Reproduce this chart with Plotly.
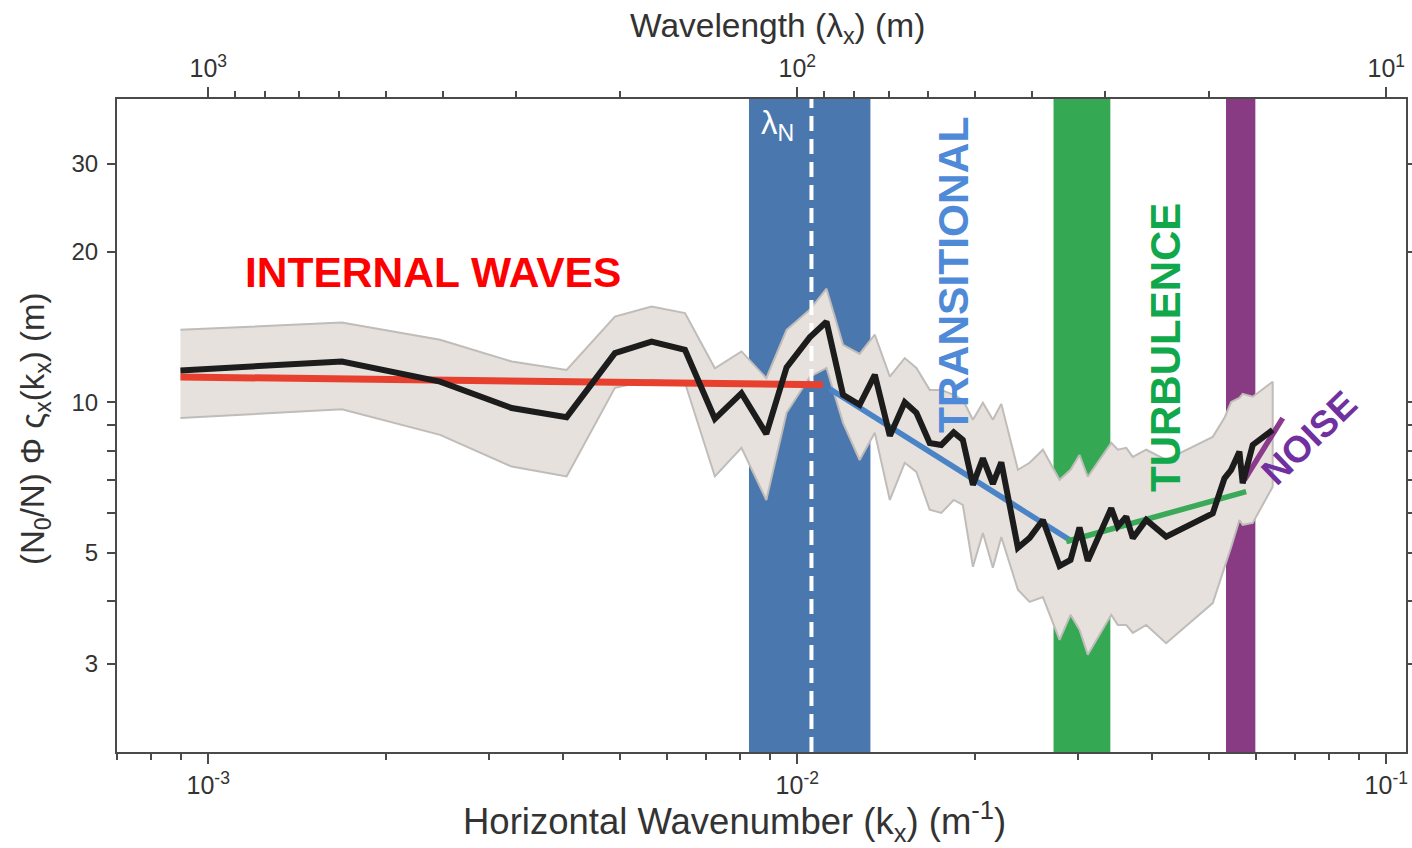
import numpy as np
import plotly.graph_objects as go

# Horizontal wavenumber k_x (m^-1) of each spectral estimate
k_x = [0.000897, 0.001686, 0.002475, 0.003275, 0.004059, 0.004902, 0.005657, 0.006447,
       0.007246, 0.00804, 0.00886, 0.00959, 0.0105, 0.01121, 0.01196, 0.01276,
       0.01354, 0.01436, 0.01522, 0.01593, 0.01678, 0.01756, 0.01843, 0.0191,
       0.01987, 0.02066, 0.02148, 0.0222, 0.02369, 0.0248, 0.02612, 0.02788,
       0.0291, 0.03014, 0.03113, 0.03412, 0.03501, 0.03618, 0.03712, 0.03912,
       0.04229, 0.05074, 0.05312, 0.05453, 0.05631, 0.05704, 0.05932, 0.06414]

# Normalised slope spectrum (m)
spectrum = [11.58, 12.07, 11.00, 9.74, 9.34, 12.54, 13.23, 12.74,
            9.27, 10.43, 8.65, 11.75, 13.49, 14.49, 10.35, 9.89,
            11.35, 8.57, 10.0, 9.53, 8.29, 8.22, 8.71, 8.41,
            6.84, 7.73, 6.87, 7.59, 5.12, 5.36, 5.82, 4.71,
            4.84, 5.62, 4.82, 6.14, 5.65, 5.91, 5.35, 5.82,
            5.39, 6.00, 7.05, 7.33, 7.97, 6.89, 8.22, 8.81]

# Confidence interval bounds
ci_upper = [13.96, 14.44, 13.34, 12.07, 11.61, 14.84, 15.54, 15.08,
            11.70, 12.64, 11.18, 13.96, 15.31, 16.87, 13.03, 12.50,
            13.65, 11.26, 12.26, 11.72, 10.59, 10.59, 10.35, 10.12,
            9.23, 9.98, 9.23, 9.93, 7.33, 7.57, 8.04, 7.00,
            7.33, 7.85, 7.10, 8.30, 8.04, 8.11, 7.78, 8.04,
            7.67, 8.53, 9.31, 10.02, 10.21, 10.40, 10.26, 10.99]
ci_lower = [9.30, 9.69, 8.61, 7.44, 7.11, 10.69, 11.09, 10.94,
            7.11, 8.11, 6.38, 9.53, 11.24, 11.72, 9.10, 7.67,
            8.69, 6.38, 7.57, 7.26, 6.10, 6.01, 6.38, 6.24,
            4.69, 5.48, 4.67, 5.38, 4.22, 3.99, 4.08, 3.35,
            3.76, 3.51, 3.13, 3.76, 3.59, 3.59, 3.46, 3.59,
            3.30, 3.97, 4.69, 5.14, 5.82, 5.69, 5.74, 6.78]

# Fitted spectral slopes for each regime
iw_fit_k, iw_fit_v = [0.000897, 0.01105], [11.24, 10.84]
tr_fit_k, tr_fit_v = [0.01135, 0.02922], [10.64, 5.28]
tu_fit_k, tu_fit_v = [0.02862, 0.05781], [5.27, 6.63]
no_fit_k, no_fit_v = [0.05742, 0.0667], [7.00, 9.30]

# Wavenumber limits of the regime transitions
transition_band = [0.00828, 0.01331]
turbulence_band = [0.02723, 0.0340]
noise_band = [0.05344, 0.05993]
k_buoyancy = 0.01057

# Axis limits
k_min, k_max = 7e-4, 0.108
y_min, y_max = 2.0, 40.4

x_ticks = [1e-3, 1e-2, 1e-1]
x_tick_text = ["10<sup>-3</sup>", "10<sup>-2</sup>", "10<sup>-1</sup>"]
lam_ticks = [1000, 100, 10]
lam_tick_text = ["10<sup>3</sup>", "10<sup>2</sup>", "10<sup>1</sup>"]
y_ticks = [3, 5, 10, 20, 30]
y_tick_text = ["3", "5", "10", "20", "30"]
y_minor = [4, 6, 7, 8, 9]

FONT = "Liberation Sans, Arial, Helvetica, sans-serif"
AXIS_COLOR = "#4a4a4a"
TEXT_COLOR = "#333333"

x_minor = [m * 10.0 ** e for e in (-4, -3, -2, -1) for m in range(2, 10)
           if k_min <= m * 10.0 ** e <= k_max]
lam_minor = [m * 10.0 ** e for e in (0, 1, 2, 3) for m in range(2, 10)
             if 1 / k_max <= m * 10.0 ** e <= 1 / k_min]

fig = go.Figure()


def vband(lims, color):
    fig.add_trace(go.Scatter(
        x=[lims[0], lims[1], lims[1], lims[0], lims[0]],
        y=[y_min, y_min, y_max, y_max, y_min],
        fill="toself", fillcolor=color, mode="none",
        hoverinfo="skip", showlegend=False))


vband(transition_band, "#4a78ae")
vband(turbulence_band, "#34a853")
vband(noise_band, "#883a82")

# Confidence envelope
fig.add_trace(go.Scatter(
    x=list(k_x) + list(k_x[::-1]),
    y=list(ci_upper) + list(ci_lower[::-1]),
    fill="toself", fillcolor="#e6e1dc",
    line=dict(color="#bfbcb9", width=2),
    mode="lines", hoverinfo="skip", showlegend=False))

# Buoyancy wavelength marker
fig.add_trace(go.Scatter(
    x=[k_buoyancy, k_buoyancy], y=[y_min, y_max], mode="lines",
    line=dict(color="white", width=4, dash="15px,8px"),
    hoverinfo="skip", showlegend=False))

# Regime fits
for kk, vv, col, w in [(iw_fit_k, iw_fit_v, "#e8402f", 7),
                       (tr_fit_k, tr_fit_v, "#4a84c6", 5.5),
                       (tu_fit_k, tu_fit_v, "#3aaa58", 5.5),
                       (no_fit_k, no_fit_v, "#8b3a8c", 5.5)]:
    fig.add_trace(go.Scatter(x=kk, y=vv, mode="lines",
                             line=dict(color=col, width=w),
                             hoverinfo="skip", showlegend=False))

# Spectrum
fig.add_trace(go.Scatter(x=k_x, y=spectrum, mode="lines",
                         line=dict(color="#1c1c1c", width=6),
                         showlegend=False))

# Wavelength axis carrier
fig.add_trace(go.Scatter(x=[100], y=[10], xaxis="x2", mode="markers",
                         marker=dict(opacity=0), hoverinfo="skip",
                         showlegend=False))

fig.update_layout(
    width=1412, height=848,
    margin=dict(l=117, r=6, t=99, b=96, autoexpand=False),
    paper_bgcolor="white", plot_bgcolor="white",
    font=dict(family=FONT, color=TEXT_COLOR),
    xaxis=dict(type="log", range=[np.log10(k_min), np.log10(k_max)],
               tickvals=x_ticks, ticktext=x_tick_text,
               ticks="outside", ticklen=10, tickwidth=1.5, tickcolor=AXIS_COLOR,
               minor=dict(tickmode="array", tickvals=x_minor, ticks="outside",
                          ticklen=6, tickwidth=1.5, tickcolor=AXIS_COLOR),
               showline=True, linecolor=AXIS_COLOR, linewidth=2,
               showgrid=False, zeroline=False, automargin=False,
               tickfont=dict(size=25, color=TEXT_COLOR)),
    xaxis2=dict(type="log", overlaying="x", side="top", anchor="y",
                range=[np.log10(1 / k_min), np.log10(1 / k_max)],
                tickvals=lam_ticks, ticktext=lam_tick_text,
                ticks="outside", ticklen=10, tickwidth=1.5, tickcolor=AXIS_COLOR,
                minor=dict(tickmode="array", tickvals=lam_minor, ticks="outside",
                           ticklen=6, tickwidth=1.5, tickcolor=AXIS_COLOR),
                showline=True, linecolor=AXIS_COLOR, linewidth=2,
                showgrid=False, zeroline=False, automargin=False,
                tickfont=dict(size=25, color=TEXT_COLOR)),
    yaxis=dict(type="log", range=[np.log10(y_min), np.log10(y_max)],
               tickvals=y_ticks, ticktext=y_tick_text,
               ticks="outside", ticklen=8, tickwidth=1.5, tickcolor=AXIS_COLOR,
               minor=dict(tickmode="array", tickvals=y_minor, ticks="outside",
                          ticklen=5, tickwidth=1.5, tickcolor=AXIS_COLOR),
               showline=True, linecolor=AXIS_COLOR, linewidth=2, mirror="allticks",
               showgrid=False, zeroline=False, automargin=False,
               ticklabelstandoff=4,
               tickfont=dict(size=24, color=TEXT_COLOR)),
)

ann = [
    dict(text="Horizontal Wavenumber (k<sub>x</sub>) (m<sup>-1</sup>)",
         x=0.4794, y=-0.106, font=dict(size=36.5, color=TEXT_COLOR)),
    dict(text="Wavelength (λ<sub>x</sub>) (m)",
         x=0.5128, y=1.109, font=dict(size=33.5, color=TEXT_COLOR)),
    dict(text="(N<sub>0</sub>/N) Φ ς<sub>x</sub>(k<sub>x</sub>) (m)",
         x=-0.0636, y=0.4946, textangle=-90, font=dict(size=33, color=TEXT_COLOR)),
    dict(text="<b>INTERNAL WAVES</b>", x=0.2452, y=0.735,
         font=dict(size=42.5, color="#ff0000")),
    dict(text="<b>TRANSITIONAL</b>", x=0.6493, y=0.7305, textangle=-90,
         font=dict(size=42.5, color="#4f8ad8")),
    dict(text="<b>TURBULENCE</b>", x=0.813, y=0.6202, textangle=-90,
         font=dict(size=42, color="#10a84a")),
    dict(text="<b>NOISE</b>", x=0.9255, y=0.4809, textangle=-44,
         font=dict(size=37, color="#7030a0")),
    dict(text="λ<sub>N</sub>", x=0.5128, y=0.960,
         font=dict(size=33, color="white")),
]
for a in ann:
    fig.add_annotation(xref="paper", yref="paper", showarrow=False,
                       xanchor="center", yanchor="middle", **a)

fig.write_html("out.html")
